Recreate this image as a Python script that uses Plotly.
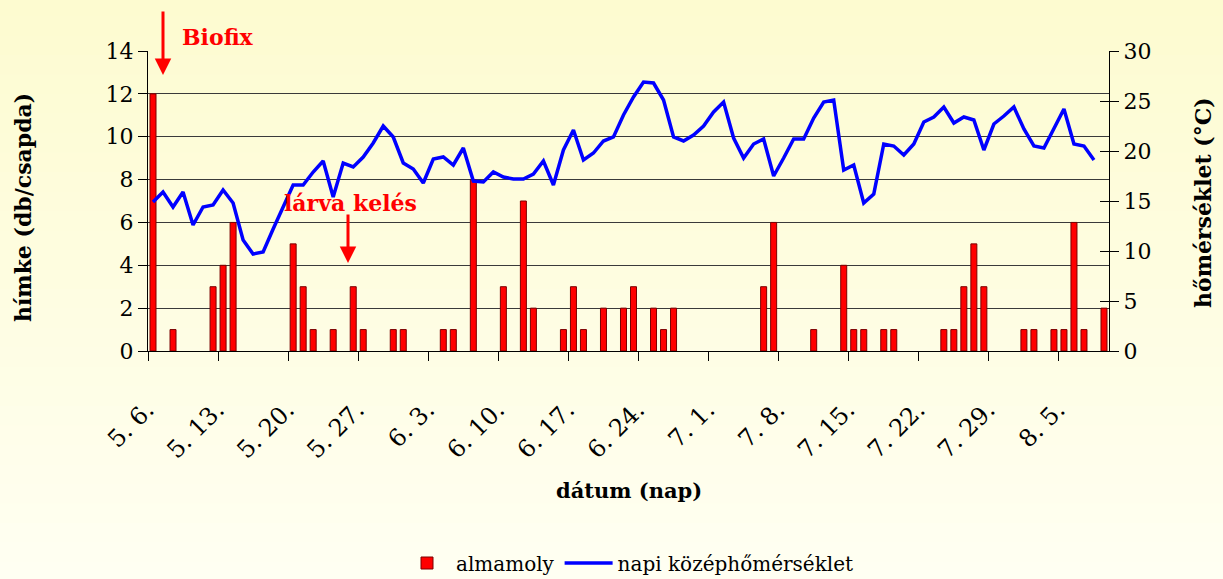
import pandas as pd
import plotly.graph_objects as go

# ---------------- data ----------------
dates = pd.date_range("2000-05-06", "2000-08-09")
day_labels = [f"{d.month}. {d.day}." for d in dates]          # 96 categories

moth_counts = [12, 0, 1, 0, 0, 0, 3, 4, 6, 0,
               0, 0, 0, 0, 5, 3, 1, 0, 1, 0,
               3, 1, 0, 0, 1, 1, 0, 0, 0, 1,
               1, 0, 8, 0, 0, 3, 0, 7, 2, 0,
               0, 1, 3, 1, 0, 2, 0, 2, 3, 0,
               2, 1, 2, 0, 0, 0, 0, 0, 0, 0,
               0, 3, 6, 0, 0, 0, 1, 0, 0, 4,
               1, 1, 0, 1, 1, 0, 0, 0, 0, 1,
               1, 3, 5, 3, 0, 0, 0, 1, 1, 0,
               1, 1, 6, 1, 0, 2]

mean_temp = [14.9, 15.9, 14.4, 15.9, 12.6, 14.4, 14.6, 16.1, 14.8, 11.1,
             9.7, 9.9, 12.2, 14.4, 16.6, 16.6, 17.9, 19.0, 15.4, 18.8,
             18.4, 19.4, 20.8, 22.5, 21.4, 18.8, 18.2, 16.8, 19.2, 19.4,
             18.6, 20.3, 17.0, 16.9, 17.9, 17.4, 17.2, 17.2, 17.7, 19.0,
             16.6, 20.1, 22.1, 19.1, 19.8, 21.0, 21.4, 23.6, 25.4, 26.9,
             26.8, 25.1, 21.4, 21.0, 21.6, 22.5, 23.9, 24.9, 21.3, 19.3,
             20.7, 21.2, 17.5, 19.3, 21.2, 21.2, 23.3, 24.9, 25.1, 18.1,
             18.6, 14.8, 15.7, 20.7, 20.5, 19.6, 20.7, 22.9, 23.4, 24.4,
             22.8, 23.4, 23.1, 20.1, 22.7, 23.5, 24.4, 22.2, 20.5, 20.3,
             22.3, 24.2, 20.7, 20.5, 19.1]

tick_labels = day_labels[::7]
boundary_ticks = [i * 7 - 0.5 for i in range(len(tick_labels))]

left_ticks = [0, 2, 4, 6, 8, 10, 12, 14]
right_ticks = [0, 5, 10, 15, 20, 25, 30]

# ---------------- figure ----------------
SERIF = "DejaVu Serif"
L, R, T, B = 148, 114, 51, 228
W, H = 1223, 579
PW, PH = W - L - R, H - T - B


def px(x):   # pixel -> paper x
    return (x - L) / PW


def py(y):   # pixel -> paper y
    return (H - B - y) / PH


fig = go.Figure()

fig.add_trace(go.Bar(
    x=day_labels, y=[v if v else None for v in moth_counts], name="almamoly",
    marker=dict(color="#FF0000", line=dict(color="#7A0000", width=1)),
    width=0.6, xaxis="x", yaxis="y",
))
fig.add_trace(go.Scatter(
    x=day_labels[:len(mean_temp)], y=mean_temp, name="napi középhőmérséklet",
    mode="lines", line=dict(color="#0000FF", width=3.5),
    xaxis="x", yaxis="y2",
))

# background gradient bands (style only)
shapes = []
n_bands = 30
top_c = (253, 251, 208)
bot_c = (255, 255, 242)
y_top, y_bot = py(0) + 0.01, py(H) - 0.01
for k in range(n_bands):
    t = k / (n_bands - 1)
    c = tuple(round(top_c[j] + (bot_c[j] - top_c[j]) * t) for j in range(3))
    y1 = y_top - (y_top - y_bot) * k / n_bands
    y0 = y_top - (y_top - y_bot) * (k + 1) / n_bands
    shapes.append(dict(type="rect", xref="paper", yref="paper",
                       x0=-0.2, x1=1.2, y0=y0 - 0.002, y1=y1 + 0.002,
                       fillcolor="rgb(%d,%d,%d)" % c, line=dict(width=0),
                       layer="below"))

fig.update_layout(
    width=W, height=H,
    margin=dict(l=L, r=R, t=T, b=B, autoexpand=False),
    paper_bgcolor="#FFFFEE", plot_bgcolor="rgba(0,0,0,0)",
    font=dict(family=SERIF, size=22, color="black"),
    bargap=0.4,
    showlegend=True,
    legend=dict(orientation="h", x=0.5, xanchor="center", y=py(563), yanchor="middle",
                font=dict(family=SERIF, size=20), bgcolor="rgba(0,0,0,0)",
                itemwidth=48, tracegroupgap=0),
    shapes=shapes,
    xaxis=dict(
        type="category", range=[-0.5, 95.5], tickmode="array",
        tickvals=tick_labels, ticktext=tick_labels, tickangle=-45,
        ticks="", showgrid=False, showline=True, linecolor="black", linewidth=1,
        ticklabelstandoff=34, ticklabelshift=-6, tickfont=dict(family=SERIF, size=24),
        zeroline=False, automargin=False,
    ),
    xaxis2=dict(
        overlaying="x", type="linear", range=[-0.5, 95.5], tickmode="array",
        tickvals=boundary_ticks, ticks="outside", ticklen=9, tickcolor="black",
        showticklabels=False, showgrid=False, showline=False, zeroline=False,
        automargin=False,
    ),
    yaxis=dict(
        range=[0, 14], tickmode="array", tickvals=left_ticks,
        ticks="outside", ticklen=9, tickcolor="black",
        showgrid=True, gridcolor="#3a3a3a", gridwidth=1,
        showline=True, linecolor="black", linewidth=1, zeroline=False,
        tickfont=dict(family=SERIF, size=22), automargin=False,
    ),
    yaxis2=dict(
        overlaying="y", side="right", range=[0, 30], tickmode="array",
        tickvals=right_ticks, ticks="outside", ticklen=9, tickcolor="black",
        showgrid=False, showline=True, linecolor="black", linewidth=1,
        zeroline=False, tickfont=dict(family=SERIF, size=22), automargin=False,
    ),
    yaxis3=dict(
        overlaying="y", side="right", range=[0, 30], tickmode="array",
        tickvals=right_ticks, ticks="inside", ticklen=9, tickcolor="black",
        showgrid=False, showline=False, showticklabels=False, zeroline=False,
        automargin=False,
    ),
)

# invisible trace to activate overlay axes
fig.add_trace(go.Scatter(x=[0], y=[0], xaxis="x2", yaxis="y3", mode="markers",
                         marker=dict(opacity=0), showlegend=False, hoverinfo="skip"))

annotations = [
    dict(text="<b>hímke (db/csapda)</b>", xref="paper", yref="paper",
         x=px(23), y=py(208), textangle=-90, showarrow=False,
         xanchor="center", yanchor="middle",
         font=dict(family=SERIF, size=22)),
    dict(text="<b>hőmérséklet (°C)</b>", xref="paper", yref="paper",
         x=px(1203), y=py(203), textangle=-90, showarrow=False,
         xanchor="center", yanchor="middle",
         font=dict(family=SERIF, size=22)),
    dict(text="<b>dátum (nap)</b>", xref="paper", yref="paper",
         x=px(629), y=py(490), showarrow=False,
         xanchor="center", yanchor="middle",
         font=dict(family=SERIF, size=21)),
    # Biofix
    dict(text="<b>Biofix</b>", xref="paper", yref="paper",
         x=px(180), y=py(37),
         xanchor="left", yanchor="middle", showarrow=False,
         font=dict(family=SERIF, size=22, color="#FF0000")),
    dict(text="", xref="paper", yref="paper",
         x=px(163), y=py(75), ax=0, ay=-65,
         showarrow=True, arrowhead=2, arrowsize=1.1, arrowwidth=3,
         arrowcolor="#FF0000"),
    # lárva kelés
    dict(text="<b>lárva kelés</b>", xref="paper", yref="paper",
         x=px(282), y=py(203),
         xanchor="left", yanchor="middle", showarrow=False,
         font=dict(family=SERIF, size=22, color="#FF0000")),
    dict(text="", xref="paper", yref="paper", x=px(348), y=py(263), ax=0, ay=-50,
         showarrow=True, arrowhead=2, arrowsize=1.1, arrowwidth=3,
         arrowcolor="#FF0000"),
]
fig.update_layout(annotations=annotations)

fig.write_html(
    "out.html",
    config={"displayModeBar": False},
    post_script=("document.body.style.margin='0';"
                 "document.body.style.overflow='hidden';"
                 "document.body.style.background='#FFFFEE';"),
)
